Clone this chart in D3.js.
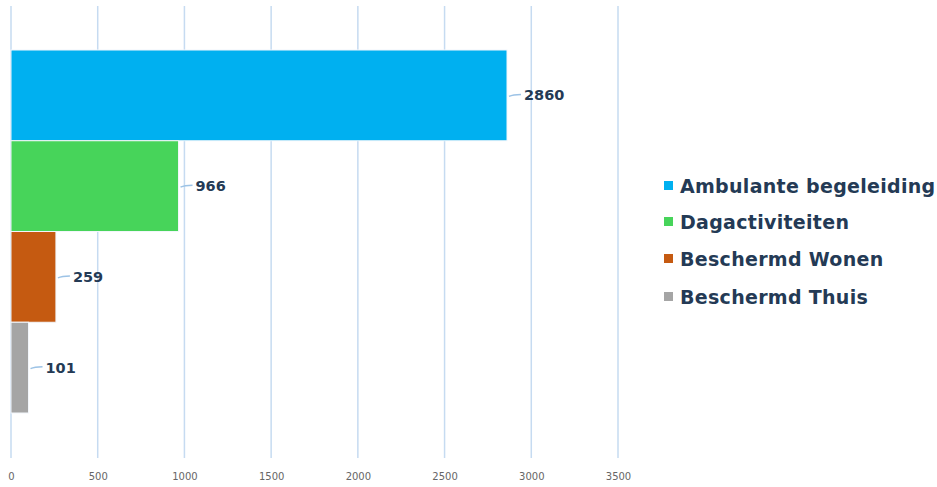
<!DOCTYPE html>
<html>
<head>
<meta charset="utf-8">
<script src="https://cdn.jsdelivr.net/npm/d3@7"></script>
<style>
  body { margin: 0; background: #fff; }
  svg { display: block; }
</style>
</head>
<body>
<svg id="chart" width="937" height="487"></svg>
<script>
// chart data
const categories = ["Ambulante begeleiding", "Dagactiviteiten", "Beschermd Wonen", "Beschermd Thuis"];
const values = [2860, 966, 259, 101];
const colors = ["#00b0f0", "#47d45a", "#c55a11", "#a5a5a5"];
const ticks = [0, 500, 1000, 1500, 2000, 2500, 3000, 3500];

const svg = d3.select("#chart");

const x = d3.scaleLinear().domain([0, 3500]).range([11, 618]);
const y = d3.scaleBand().domain(categories).range([50, 413]).padding(0);

// gridlines
svg.append("g")
    .selectAll("line")
    .data(ticks)
    .enter()
    .append("line")
    .attr("x1", (d) => x(d))
    .attr("x2", (d) => x(d))
    .attr("y1", 6)
    .attr("y2", 458)
    .attr("stroke", "#c6dbf1")
    .style("stroke-width", "1.5px");

// x axis labels
const axis = d3.axisBottom(x).tickValues(ticks).tickSize(0).tickPadding(0)
    .tickFormat(d3.format("d"));
const ax = svg.append("g")
    .attr("transform", "translate(0, 473)")
    .call(axis);
ax.select(".domain").remove();
ax.selectAll("text")
    .attr("fill", "#666")
    .style("font-family", "DejaVu Sans, sans-serif")
    .style("font-size", "10px");

// bars
svg.append("g")
    .selectAll("rect")
    .data(values)
    .enter()
    .append("rect")
    .attr("x", x(0))
    .attr("y", (d, i) => y(categories[i]))
    .attr("width", (d) => x(d) - x(0))
    .attr("height", y.bandwidth())
    .attr("fill", (d, i) => colors[i])
    .attr("stroke", "#f2f6fb")
    .style("stroke-width", "1px");

// leader lines and data labels
const labels = svg.append("g");
values.forEach((v, i) => {
    const x0 = x(v) + 2;
    const cy = y(categories[i]) + y.bandwidth() / 2;
    labels.append("path")
        .attr("d", `M${x0},${cy + 1} Q${x0 + 4},${cy - 1} ${x0 + 12},${cy - 1}`)
        .attr("fill", "none")
        .attr("stroke", "#9dc3e6")
        .style("stroke-width", "1.5px");
    labels.append("text")
        .text(v)
        .attr("x", x0 + 15)
        .attr("y", cy)
        .attr("dy", "0.35em")
        .attr("fill", "#243a55")
        .style("font-family", "DejaVu Sans, sans-serif")
        .style("font-weight", "bold")
        .style("font-size", "14.5px");
});

// legend
const legend = svg.append("g").attr("transform", "translate(664, 0)");
const legendY = [186, 222, 259, 297];
categories.forEach((c, i) => {
    legend.append("rect")
        .attr("x", 0)
        .attr("y", legendY[i] - 5)
        .attr("width", 9)
        .attr("height", 9)
        .attr("fill", colors[i]);
    legend.append("text")
        .text(c)
        .attr("x", 16)
        .attr("y", legendY[i])
        .attr("dy", "0.35em")
        .attr("fill", "#243a55")
        .style("font-family", "DejaVu Sans, sans-serif")
        .style("font-weight", "bold")
        .style("font-size", "19px")
        .style("letter-spacing", "0.3px");
});
</script>
</body>
</html>
